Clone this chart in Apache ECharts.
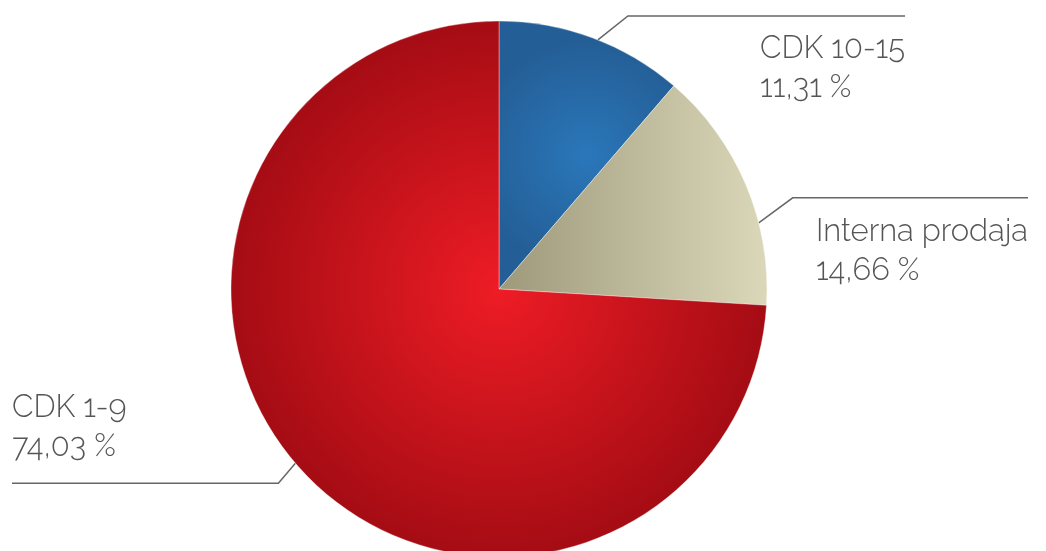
<!DOCTYPE html>
<html>
<head>
<meta charset="utf-8">
<script src="https://cdn.jsdelivr.net/npm/echarts@6/dist/echarts.min.js"></script>
<style>
  html, body { margin: 0; padding: 0; background: #fff; }
  #chart { width: 1046px; height: 551px; }
</style>
</head>
<body>
<div id="chart"></div>
<script>
// podaci
const categories = ['CDK 10-15', 'Interna prodaja', 'CDK 1-9'];
const shares = [11.31, 14.66, 74.03];

// boje isječaka (gradijenti)
const fills = [
  { type: 'radial', x: 0.5, y: 0.5, r: 0.65, colorStops: [{ offset: 0, color: '#2a77ba' }, { offset: 1, color: '#245e96' }] },
  { type: 'linear', x: 0, y: 0, x2: 1, y2: 0, colorStops: [{ offset: 0, color: '#9e997b' }, { offset: 1, color: '#dbd8b9' }] },
  { type: 'radial', x: 0.5, y: 0.5, r: 0.5, colorStops: [{ offset: 0, color: '#ee1c25' }, { offset: 1, color: '#a50c14' }] }
];

const cx = 499, cy = 289, R = 268;
// vodilice za oznake: pomak kuta, koljeno, kraj linije
const guides = [
  { nudge: 1.3, knee: [30, -24], end: 905, dy: 13 },
  { nudge: 8.6, knee: [34, -25], end: 1028, dy: 14 },
  { nudge: 2.7, knee: [-17, 20], end: 12, dy: -17 }
];

const total = shares.reduce((a, b) => a + b, 0);
const anchors = [];
let acc = 0;
shares.forEach((v, i) => {
  const mid = (acc + v / 2) / total * 360 + guides[i].nudge;
  acc += v;
  const a = mid * Math.PI / 180;
  anchors.push([cx + R * Math.sin(a), cy - R * Math.cos(a)]);
});

const chart = echarts.init(document.getElementById('chart'));
chart.setOption({
  animation: false,
  series: [{
    type: 'pie',
    center: [cx, cy],
    radius: R,
    startAngle: 90,
    clockwise: true,
    data: categories.map((name, i) => ({
      name: name,
      value: shares[i],
      itemStyle: { color: fills[i] }
    })),
    itemStyle: { borderColor: 'rgba(255,255,255,0.6)', borderWidth: 0.6 },
    emphasis: { disabled: true },
    label: {
      show: true,
      position: 'outside',
      formatter: (p) => p.name + '\n' + p.value.toFixed(2).replace('.', ',') + ' %',
      fontSize: 31,
      lineHeight: 39,
      color: '#555',
      fontWeight: 300,
      fontFamily: 'Raleway, Lato, sans-serif'
    },
    labelLine: {
      show: true,
      length: 20,
      length2: 20,
      lineStyle: { color: '#666', width: 1.5 }
    },
    labelLayout: (params) => {
      const i = params.dataIndex;
      const g = guides[i];
      const p0 = anchors[i];
      const knee = [p0[0] + g.knee[0], p0[1] + g.knee[1]];
      const right = g.end > cx;
      return {
        x: right ? g.end - params.labelRect.width : g.end,
        y: knee[1] + g.dy,
        align: 'left',
        verticalAlign: right ? 'top' : 'bottom',
        labelLinePoints: [p0, knee, [g.end, knee[1]]]
      };
    }
  }]
});
</script>
</body>
</html>
